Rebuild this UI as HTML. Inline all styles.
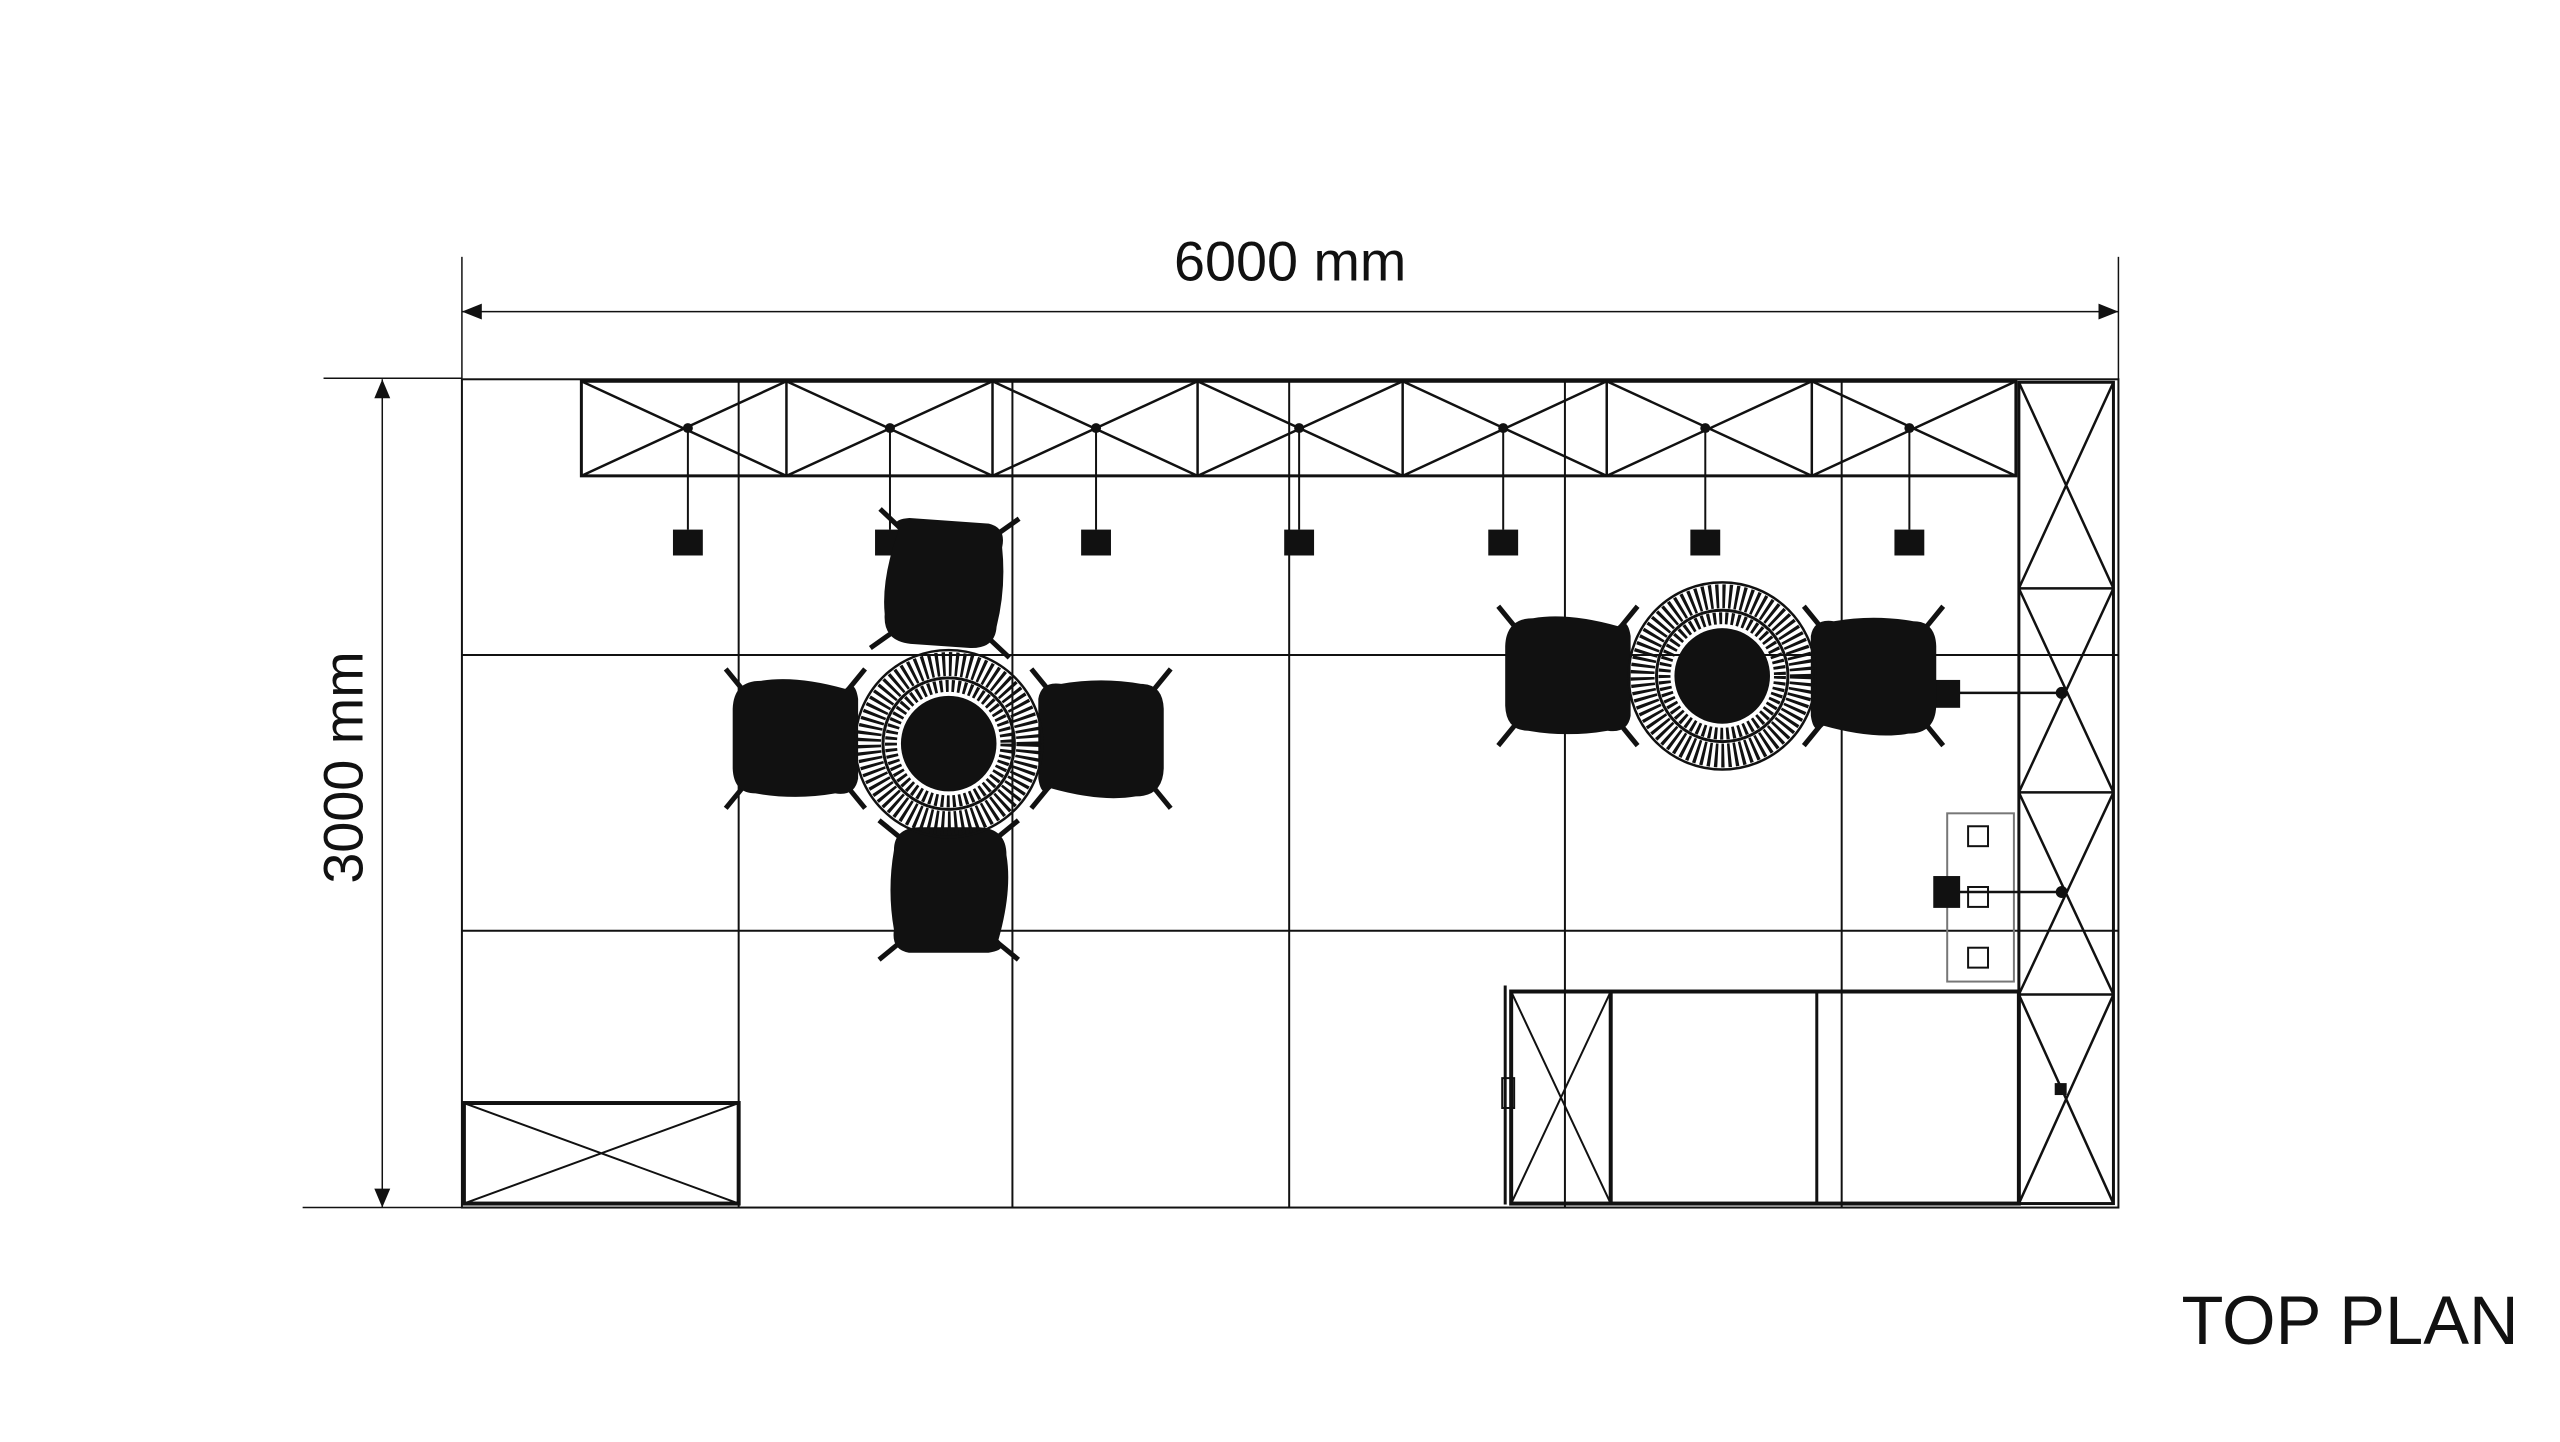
<!DOCTYPE html>
<html><head><meta charset="utf-8"><style>html,body{margin:0;padding:0;background:#fff}svg{display:block}</style></head>
<body>
<svg width="2560" height="1442" viewBox="0 0 2560 1442" xmlns="http://www.w3.org/2000/svg">
<defs>
<g id="chair">
  <line x1="-48" y1="-52" x2="-70" y2="-70" stroke="#111" stroke-width="5"/>
  <line x1="48" y1="-52" x2="70" y2="-70" stroke="#111" stroke-width="5"/>
  <line x1="-48" y1="52" x2="-70" y2="70" stroke="#111" stroke-width="5"/>
  <line x1="48" y1="52" x2="70" y2="70" stroke="#111" stroke-width="5"/>
  <path d="M-50,-50 Q-60,-60 -40,-63 L40,-63 Q58,-60 55,-40 Q62,0 55,40 Q55,62 30,63 L-30,63 Q-58,62 -58,35 Q-64,0 -50,-50 Z" fill="#111"/>
</g>
<g id="table">
  <circle r="94" fill="none" stroke="#111" stroke-width="2.5"/>
  <circle r="80" fill="none" stroke="#111" stroke-width="24" stroke-dasharray="3 3.5"/>
  <circle r="66" fill="none" stroke="#111" stroke-width="3"/>
  <circle r="58" fill="none" stroke="#111" stroke-width="12" stroke-dasharray="3 3"/>
  <circle r="48" fill="#111"/>
</g>
</defs>
<g transform="scale(0.9955)">
<g stroke="#111" fill="none" stroke-width="2">
  <line x1="464" y1="258" x2="464" y2="381" stroke-width="1.5"/>
  <line x1="2128" y1="258" x2="2128" y2="381" stroke-width="1.5"/>
  <line x1="464" y1="313" x2="2128" y2="313" stroke-width="1.5"/>
  <line x1="325" y1="380" x2="464" y2="380" stroke-width="1.5"/>
  <line x1="304" y1="1213" x2="464" y2="1213" stroke-width="1.5"/>
  <line x1="384" y1="381" x2="384" y2="1213" stroke-width="1.5"/>
  <rect x="464" y="381" width="1664" height="832" stroke-width="2"/>
  <line x1="742" y1="381" x2="742" y2="1213"/>
  <line x1="1017" y1="381" x2="1017" y2="1213"/>
  <line x1="1295" y1="381" x2="1295" y2="1213"/>
  <line x1="1572" y1="381" x2="1572" y2="1213"/>
  <line x1="1850" y1="381" x2="1850" y2="1213"/>
  <line x1="464" y1="658" x2="2128" y2="658"/>
  <line x1="464" y1="935" x2="2128" y2="935"/>
  <rect x="584" y="383" width="1441" height="95" stroke-width="3"/>
  <g stroke-width="2.5">
  <path d="M584,383 L790,478 M584,478 L790,383 M790,383 L997,478 M790,478 L997,383 M997,383 L1203,478 M997,478 L1203,383 M1203,383 L1409,478 M1203,478 L1409,383 M1409,383 L1614,478 M1409,478 L1614,383 M1614,383 L1820,478 M1614,478 L1820,383 M1820,383 L2025,478 M1820,478 L2025,383"/>
  <path d="M790,383 V478 M997,383 V478 M1203,383 V478 M1409,383 V478 M1614,383 V478 M1820,383 V478"/>
  </g>
  <g stroke-width="2">
  <path d="M691,430 V532 M894,430 V532 M1101,430 V532 M1305,430 V532 M1510,430 V532 M1713,430 V532 M1918,430 V532"/>
  </g>
  <rect x="2028" y="384" width="95" height="825" stroke-width="3"/>
  <path d="M2028,384 L2123,591 M2123,384 L2028,591 M2028,591 L2123,796 M2123,591 L2028,796 M2028,796 L2123,999 M2123,796 L2028,999 M2028,999 L2123,1209 M2123,999 L2028,1209 M2028,591 H2123 M2028,796 H2123 M2028,999 H2123" stroke-width="2.5"/>
  <rect x="466" y="1108" width="276" height="101" stroke-width="4"/>
  <path d="M466,1108 L742,1209 M742,1108 L466,1209" stroke-width="2"/>
  <line x1="1512" y1="990" x2="1512" y2="1210" stroke-width="3"/>
  <rect x="1518" y="996" width="510" height="213" stroke-width="4"/>
  <line x1="1618" y1="996" x2="1618" y2="1209" stroke-width="4"/>
  <line x1="1825" y1="996" x2="1825" y2="1209" stroke-width="3"/>
  <path d="M1518,996 L1618,1209 M1618,996 L1518,1209" stroke-width="2"/>
  <rect x="1509" y="1083" width="12" height="30" stroke-width="2"/>
  <rect x="1956" y="817" width="67" height="169" stroke="#777" stroke-width="2"/>
  <rect x="1977" y="830" width="20" height="20" stroke-width="2"/>
  <rect x="1977" y="891" width="20" height="20" stroke-width="2"/>
  <rect x="1977" y="952" width="20" height="20" stroke-width="2"/>
  <line x1="1956" y1="696" x2="2071" y2="696" stroke-width="2.5"/>
  <line x1="1956" y1="896" x2="2071" y2="896" stroke-width="2.5"/>
</g>
<g fill="#111">
  <polygon points="464,313 484,305 484,321"/>
  <polygon points="2128,313 2108,305 2108,321"/>
  <polygon points="384,381 376,400 392,400"/>
  <polygon points="384,1213 376,1194 392,1194"/>
  <circle cx="691" cy="430" r="5"/><circle cx="894" cy="430" r="5"/><circle cx="1101" cy="430" r="5"/><circle cx="1305" cy="430" r="5"/><circle cx="1510" cy="430" r="5"/><circle cx="1713" cy="430" r="5"/><circle cx="1918" cy="430" r="5"/>
  <rect x="676" y="532" width="30" height="26"/><rect x="879" y="532" width="30" height="26"/><rect x="1086" y="532" width="30" height="26"/><rect x="1290" y="532" width="30" height="26"/><rect x="1495" y="532" width="30" height="26"/><rect x="1698" y="532" width="30" height="26"/><rect x="1903" y="532" width="30" height="26"/>
  <rect x="1942" y="683" width="27" height="28"/>
  <rect x="1942" y="880" width="27" height="32"/>
  <circle cx="2071" cy="696" r="6"/><circle cx="2071" cy="896" r="6"/>
  <rect x="2064" y="1088" width="12" height="12"/>
</g>
<use href="#chair" transform="translate(949,586) rotate(4)"/>
<use href="#chair" transform="translate(799,742) rotate(90)"/>
<use href="#chair" transform="translate(1106,742) rotate(-90)"/>
<use href="#chair" transform="translate(953,894) rotate(180)"/>
<use href="#table" transform="translate(953,747)"/>
<use href="#chair" transform="translate(1575,679) rotate(90)"/>
<use href="#chair" transform="translate(1882,679) rotate(-90)"/>
<use href="#table" transform="translate(1730,679)"/>
<text x="1296" y="282" font-family="Liberation Sans, sans-serif" font-size="56" text-anchor="middle" fill="#111">6000 mm</text>
<text transform="translate(364,771) rotate(-90)" font-family="Liberation Sans, sans-serif" font-size="56" text-anchor="middle" fill="#111">3000 mm</text>
<text x="2530" y="1350" font-family="Liberation Sans, sans-serif" font-size="69" text-anchor="end" fill="#111">TOP PLAN</text>
</g>
</svg>
</body></html>
